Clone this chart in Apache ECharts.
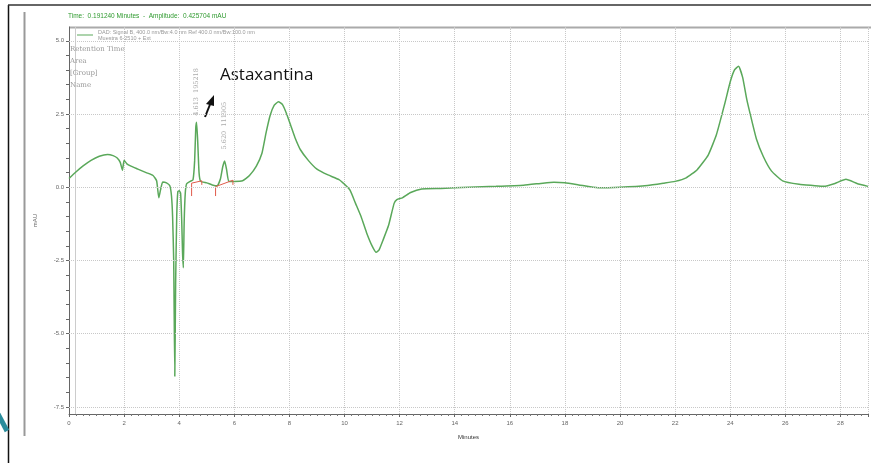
<!DOCTYPE html>
<html lang="es">
<head>
<meta charset="UTF-8">
<title>Cromatograma</title>
<script src="https://cdn.jsdelivr.net/npm/echarts@6/dist/echarts.min.js"></script>
<style>
  html, body { margin: 0; padding: 0; background: #fff; }
  #chart { width: 871px; height: 463px; }
</style>
</head>
<body>
<div id="chart"></div>
<script>
// retention time (min) and signal (mAU)
var minutes = [0, 0.25, 0.5, 0.8, 1.1, 1.4, 1.6, 1.75, 1.86, 1.94, 2.0, 2.1, 2.25, 2.5, 2.8, 3.05, 3.18, 3.26, 3.32, 3.4,
  3.54, 3.66, 3.72, 3.76, 3.8, 3.84, 3.87, 3.91, 3.95, 4.0, 4.05, 4.09, 4.12, 4.15, 4.18, 4.22, 4.27, 4.4, 4.5, 4.56,
  4.6, 4.63, 4.67, 4.72, 4.78, 5.0, 5.2, 5.38, 5.5, 5.58, 5.65, 5.72, 5.8, 6.0, 6.3, 6.55, 6.8, 7.0, 7.15, 7.3,
  7.45, 7.6, 7.75, 7.9, 8.05, 8.2, 8.4, 8.7, 9.0, 9.4, 9.8, 10.0, 10.2, 10.4, 10.6, 10.8, 11.0, 11.15, 11.25, 11.4,
  11.6, 11.8, 11.9, 12.1, 12.4, 12.8, 13.5, 14.5, 15.5, 16.5, 17.2, 17.6, 18.0, 18.5, 19.2, 20.0, 21.0, 21.6, 22.0, 22.4,
  22.8, 23.2, 23.5, 23.8, 24.0, 24.15, 24.3, 24.45, 24.6, 24.75, 24.95, 25.2, 25.5, 25.9, 26.5, 27.0, 27.4, 27.8, 28.2, 28.6, 29.0];
var mAU = [0.3, 0.52, 0.72, 0.92, 1.06, 1.12, 1.08, 1.0, 0.85, 0.58, 0.92, 0.8, 0.72, 0.62, 0.5, 0.4, 0.22, -0.36, -0.1, 0.18,
  0.15, 0.05, -0.3, -1.0, -2.5, -6.45, -3.3, -1.0, -0.15, -0.12, -0.2, -1.1, -2.2, -2.75, -1.2, -0.2, 0.12, 0.2, 0.25, 0.9,
  2.0, 2.22, 1.6, 0.5, 0.2, 0.15, 0.08, 0.05, 0.3, 0.7, 0.9, 0.6, 0.2, 0.2, 0.22, 0.4, 0.72, 1.15, 1.85, 2.45,
  2.8, 2.92, 2.82, 2.5, 2.1, 1.7, 1.28, 0.9, 0.62, 0.42, 0.26, 0.1, -0.1, -0.55, -1.0, -1.55, -2.0, -2.22, -2.15, -1.8,
  -1.3, -0.55, -0.42, -0.36, -0.18, -0.06, -0.04, 0.0, 0.03, 0.07, 0.14, 0.17, 0.15, 0.08, -0.02, 0.0, 0.06, 0.14, 0.2, 0.32,
  0.6, 1.1, 1.8, 2.85, 3.6, 4.0, 4.13, 3.75, 3.0, 2.4, 1.65, 1.05, 0.55, 0.22, 0.1, 0.06, 0.03, 0.13, 0.27, 0.13, 0.03];

// integrated peaks: [time, apex, label]
var peaks = [[4.63, 2.22, '4.613  195218'], [5.65, 0.9, '5.620  111905']];
// integration baselines (red)
var baseline1 = [[4.45, -0.3], [4.45, 0.14], [4.82, 0.22], [4.82, 0.08]];
var baseline2 = [[5.32, -0.3], [5.32, 0.02], [5.95, 0.24], [5.95, 0.08]];

var yLabels = [-7.5, -5, -2.5, 0, 2.5, 5];
var yMinorTicks = [-7.5, -7, -6.5, -6, -5.5, -5, -4.5, -4, -3.5, -3, -2.5, -2, -1.5, -1, -0.5, 0,
  0.5, 1, 1.5, 2, 2.5, 3, 3.5, 4, 4.5, 5];

var signalName = 'DAD: Signal B, 400.0 nm/Bw:4.0 nm Ref 400.0 nm/Bw:100.0 nm\nMuestra 6-2510 + Ext';

var traceData = minutes.map(function (t, i) { return [t, mAU[i]]; });

var chart = echarts.init(document.getElementById('chart'));
chart.setOption({
  animation: false,
  backgroundColor: '#fff',
  textStyle: { fontFamily: 'Liberation Sans, Arial, sans-serif' },
  grid: { left: 69, right: 0, top: 27, bottom: 49 },
  legend: {
    data: [signalName],
    left: 77, top: 29, padding: 0,
    itemWidth: 16, itemHeight: 4, itemGap: 4,
    icon: 'path://M0,0L16,0L16,1L0,1Z',
    textStyle: { fontSize: 5.5, color: '#999', lineHeight: 6 }
  },
  xAxis: {
    type: 'value', min: 0, max: 29, interval: 2,
    name: 'Minutes', nameLocation: 'middle', nameGap: 20,
    nameTextStyle: { fontSize: 6, color: '#333' },
    axisLine: { onZero: false, lineStyle: { color: '#666', width: 1 } },
    axisTick: { length: 3, lineStyle: { color: '#666' } },
    minorTick: { show: true, splitNumber: 8, length: 2, lineStyle: { color: '#777' } },
    axisLabel: { fontSize: 6, color: '#666', margin: 6,
      formatter: function (v) { return v > 28 ? '' : v; } },
    splitLine: { show: true, lineStyle: { color: '#c8c8c8', type: 'dotted' } }
  },
  yAxis: {
    type: 'value', min: -7.74, max: 5.47,
    name: 'mAU', nameLocation: 'middle', nameGap: 31, nameRotate: 90,
    nameTextStyle: { fontSize: 6, color: '#666' },
    axisLine: { show: true, onZero: false, lineStyle: { color: '#666' } },
    axisTick: { show: true, length: 3, customValues: yMinorTicks, lineStyle: { color: '#666' } },
    axisLabel: { fontSize: 6, color: '#666', margin: 5, customValues: yLabels,
      formatter: function (v) { return v.toFixed(1); } },
    splitLine: { show: false }
  },
  series: [
    {
      name: signalName,
      type: 'line',
      data: traceData,
      showSymbol: false,
      smooth: 0.15,
      lineStyle: { color: '#5aa85a', width: 1.5 },
      itemStyle: { color: '#5aa85a' },
      markLine: {
        silent: true, symbol: 'none', animation: false,
        label: { show: false },
        lineStyle: { color: '#c8c8c8', type: 'dotted', width: 1 },
        data: yLabels.map(function (v) { return { yAxis: v }; })
      },
      markPoint: {
        symbol: 'circle', symbolSize: 1,
        itemStyle: { color: 'rgba(0,0,0,0)' },
        label: {
          show: true, position: 'top', distance: 6, rotate: 90,
          align: 'left', verticalAlign: 'middle',
          fontSize: 6.5, color: '#aaa', fontFamily: 'DejaVu Serif, serif',
          formatter: function (p) { return p.data.name; }
        },
        data: peaks.map(function (p, i) {
          return { coord: [p[0], p[1]], name: p[2], label: { distance: i === 0 ? 6 : 11 } };
        })
      },
      z: 3
    },
    {
      name: 'base1', type: 'line', data: baseline1, showSymbol: false,
      lineStyle: { color: '#e05a4a', width: 1 }, z: 4
    },
    {
      name: 'base2', type: 'line', data: baseline2, showSymbol: false,
      lineStyle: { color: '#e05a4a', width: 1 }, z: 4
    }
  ],
  graphic: [
    // window frame
    { type: 'line', shape: { x1: 8.5, y1: 5, x2: 8.5, y2: 463 }, style: { stroke: '#111', lineWidth: 1.5 } },
    { type: 'line', shape: { x1: 8, y1: 5, x2: 871, y2: 5 }, style: { stroke: '#333', lineWidth: 1.5 } },
    { type: 'line', shape: { x1: 24.5, y1: 12, x2: 24.5, y2: 436 }, style: { stroke: '#999', lineWidth: 2 } },
    { type: 'line', shape: { x1: 69, y1: 27.5, x2: 871, y2: 27.5 }, style: { stroke: '#aaa', lineWidth: 2 } },
    { type: 'line', shape: { x1: 75.5, y1: 27, x2: 75.5, y2: 414 }, style: { stroke: '#ccc', lineWidth: 1 } },
    // teal slide arrow
    { type: 'polyline', shape: { points: [[-2, 414], [7, 431]] }, style: { stroke: '#2a8c9c', lineWidth: 5 } },
    // header line
    { type: 'text', left: 68, top: 13,
      style: { text: 'Time:  0.191240 Minutes  -  Amplitude:  0.425704 mAU', fontSize: 6.5, fill: '#2f9a2f',
        fontFamily: 'Liberation Sans, Arial, sans-serif' } },
    { type: 'text', left: 70, top: 43,
      style: { text: 'Retention Time\nArea\n[Group]\nName', fontSize: 7, lineHeight: 12, fill: '#999',
        fontFamily: 'DejaVu Serif, serif' } },
    { type: 'text', left: 220, top: 67,
      style: { text: 'Astaxantina', fontSize: 17, fill: '#111', fontFamily: 'Open Sans, sans-serif' } },
    { type: 'line', shape: { x1: 205, y1: 117, x2: 211, y2: 102 }, style: { stroke: '#111', lineWidth: 2 } },
    { type: 'polygon', shape: { points: [[214, 95], [206, 104], [214, 106]] }, style: { fill: '#111' } }
  ]
});
</script>
</body>
</html>
